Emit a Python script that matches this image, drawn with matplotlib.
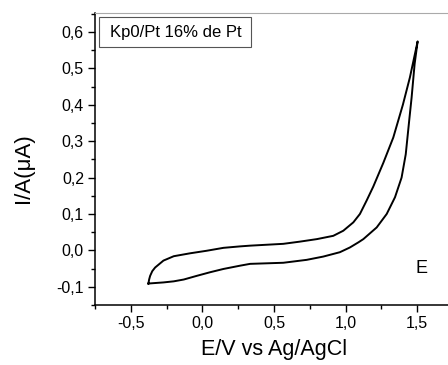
import matplotlib
matplotlib.use("Agg")
import matplotlib.pyplot as plt
from matplotlib.ticker import MultipleLocator, FuncFormatter
from matplotlib.patches import Rectangle

plt.rcParams['font.family'] = ['Liberation Sans', 'DejaVu Sans']

E_fwd = [-0.377, -0.372, -0.365, -0.35, -0.33, -0.272, -0.20, -0.086, 0.03, 0.147, 0.263, 0.333,
         0.565, 0.68, 0.80, 0.914, 0.984, 1.054, 1.10, 1.147, 1.193, 1.263, 1.333, 1.40,
         1.449, 1.503]
I_fwd = [-0.091, -0.080, -0.070, -0.057, -0.047, -0.028, -0.016, -0.008, -0.001, 0.007, 0.011, 0.013,
         0.018, 0.024, 0.031, 0.040, 0.054, 0.077, 0.100, 0.137, 0.175, 0.240, 0.310, 0.400,
         0.475, 0.574]
E_rev = [1.503, 1.482, 1.461, 1.445, 1.42, 1.391, 1.345, 1.287, 1.217, 1.124, 1.089, 1.03, 0.96,
         0.844, 0.728, 0.565, 0.333, 0.263, 0.147, 0.054, -0.04, -0.13, -0.20, -0.272, -0.377]
I_rev = [0.574, 0.512, 0.420, 0.360, 0.264, 0.200, 0.146, 0.100, 0.063, 0.031, 0.022, 0.008, -0.005,
         -0.017, -0.026, -0.034, -0.037, -0.042, -0.051, -0.060, -0.070, -0.080, -0.085, -0.088, -0.091]

fig = plt.figure(figsize=(4.48, 3.65), dpi=100)
ax = fig.add_axes([95/448, 60/365, 358/448, 292/365])

ax.plot(E_fwd + E_rev, I_fwd + I_rev, color='black', lw=1.4, solid_joinstyle='round')

ax.set_xlim(-0.75, 1.75)
ax.set_ylim(-0.15, 0.652)
ax.xaxis.set_major_locator(MultipleLocator(0.5))
ax.xaxis.set_minor_locator(MultipleLocator(0.25))
ax.yaxis.set_major_locator(MultipleLocator(0.1))
ax.yaxis.set_minor_locator(MultipleLocator(0.05))
fmt = FuncFormatter(lambda v, p: f"{v:.1f}".replace('.', ',').replace('-0,0', '0,0'))
ax.xaxis.set_major_formatter(fmt)
ax.yaxis.set_major_formatter(fmt)
ax.tick_params(which='major', direction='out', length=5, width=1, labelsize=11.5, pad=3)
ax.tick_params(which='minor', direction='out', length=3, width=1)
ax.spines['right'].set_visible(False)
ax.spines['top'].set_color('#aaaaaa')
for s in ('left', 'bottom'):
    ax.spines[s].set_linewidth(1.1)

ax.set_xlabel('E/V vs Ag/AgCl', fontsize=15.5, labelpad=6)
ax.set_ylabel('I/A(μA)', fontsize=16)
ax.yaxis.set_label_coords(-0.17, 0.47)

fig.patches.append(Rectangle((99/448, (365-47)/365), 152/448, 30/365, transform=fig.transFigure,
                             fc='white', ec='#555555', lw=0.8, zorder=5))
fig.text(110/448, (365-32)/365, 'Kp0/Pt 16% de Pt', fontsize=12, ha='left', va='center', zorder=6)
ax.text(1.53, -0.05, 'E', fontsize=13, ha='center', va='center')

fig.savefig('out.png', dpi=100)
